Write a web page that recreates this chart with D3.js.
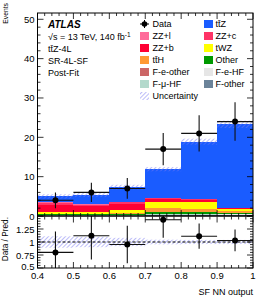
<!DOCTYPE html>
<html><head><meta charset="utf-8">
<script src="https://cdn.jsdelivr.net/npm/d3@7"></script>
<style>
body{margin:0;background:#fff;}
text{font-family:"Liberation Sans",Arial,Helvetica,sans-serif;}
</style></head>
<body><svg id="c" width="266" height="300"></svg>
<script>
const binEdges = [0.4,0.5,0.6,0.7,0.8,0.9,1.0];
const dataVals = [4,6,7,17,21,24];
const procNames = ["F-other","F-\u03bc-HF","F-e-HF","F-e-other","Other","tt\u0304H","tWZ","ZZ+b","ZZ+c","ZZ+l","tt\u0304Z"];
const procColors = ["#6b8399","#b3d9cc","#e6e6e6","#cc6666","#009900","#ff9933","#ffff00","#ff0033","#ff3366","#ff6b9a","#1a5cff"];
const fOther   = [0.10,0.10,0.10,0.15,0.15,0.15];
const fMuHF    = [0.15,0.10,0.15,0.25,0.25,0.20];
const fEHF     = [0.05,0.05,0.05,0.10,0.10,0.10];
const fEOther  = [0.05,0.05,0.05,0.10,0.10,0.10];
const other    = [0.10,0.10,0.10,0.30,0.30,0.25];
const ttH      = [0.15,0.10,0.25,1.10,0.90,0.55];
const tWZ      = [0.30,0.60,0.70,1.60,1.80,0.55];
const zzb      = [1.90,1.40,1.60,0.70,0.45,0.05];
const zzc      = [0.60,0.40,0.45,0.30,0.20,0.03];
const zzl      = [0.20,0.15,0.15,0.10,0.05,0.02];
const ttZ      = [1.40,2.30,3.75,7.20,14.60,21.30];
const relUnc   = [0.11,0.10,0.08,0.045,0.04,0.04];
const xTicks = [0.4,0.5,0.6,0.7,0.8,0.9,1];
const yTicks = [0,10,20,30,40,50];
const rTicks = [0.5,0.75,1,1.25];
const legendLeft = [["Data","data"],["ZZ+l",9],["ZZ+b",7],["tt\u0304H",5],["F-e-other",3],["F-\u03bc-HF",1],["Uncertainty","unc"]];
const legendRight = [["tt\u0304Z",10],["ZZ+c",8],["tWZ",6],["Other",4],["F-e-HF",2],["F-other",0]];
const infoLines = ["tt\u0304Z-4L","SR-4L-SF","Post-Fit"];

const series = [fOther,fMuHF,fEHF,fEOther,other,ttH,tWZ,zzb,zzc,zzl,ttZ];
const bins = dataVals.map((d,i)=>{const o={i:i,lo:binEdges[i],hi:binEdges[i+1]}; series.forEach((s,k)=>o["p"+k]=s[i]); return o;});
const totals = bins.map((b,i)=>d3.sum(series,s=>s[i]));

const svg = d3.select("#c");
const L=37.5,R=253,T=13,MB=216,RB=268;
const x = d3.scaleLinear().domain([0.4,1]).range([L,R]);
const y = d3.scaleLinear().domain([0,51.6]).range([MB,T]);
const yr = d3.scaleLinear().domain([0.5,1.5]).range([RB,MB]);

const defs = svg.append("defs");
const pat = defs.append("pattern").attr("id","hatch").attr("patternUnits","userSpaceOnUse")
  .attr("width",3).attr("height",3).attr("patternTransform","rotate(45)");
pat.append("line").attr("x1",0).attr("y1",0).attr("x2",0).attr("y2",3).attr("stroke","#7a7af2").attr("stroke-width",1);
defs.append("clipPath").attr("id","clipM").append("rect").attr("x",L).attr("y",T).attr("width",R-L).attr("height",MB-T);
defs.append("clipPath").attr("id","clipR").append("rect").attr("x",L).attr("y",MB).attr("width",R-L).attr("height",RB-MB);

// stacks
const stack = d3.stack().keys(series.map((s,k)=>"p"+k))(bins);
const gM = svg.append("g").attr("clip-path","url(#clipM)");
stack.forEach((layer,k)=>{
  gM.selectAll(null).data(layer).enter().append("rect")
    .attr("x",d=>x(d.data.lo)).attr("width",d=>x(d.data.hi)-x(d.data.lo))
    .attr("y",d=>y(d[1])).attr("height",d=>Math.max(0,y(d[0])-y(d[1])))
    .attr("fill",procColors[k]).attr("shape-rendering","crispEdges");
});
gM.selectAll(null).data(bins).enter().append("rect")
  .attr("x",d=>x(d.lo)).attr("width",d=>x(d.hi)-x(d.lo))
  .attr("y",(d,i)=>y(totals[i]*(1+relUnc[i]))).attr("height",(d,i)=>y(totals[i]*(1-relUnc[i]))-y(totals[i]*(1+relUnc[i])))
  .attr("fill","url(#hatch)");

// data main
const dc="#111";
const gD = svg.append("g").attr("clip-path","url(#clipM)");
bins.forEach((b,i)=>{
  const cx=x((b.lo+b.hi)/2), v=dataVals[i], e=Math.sqrt(v);
  gD.append("line").attr("x1",x(b.lo)).attr("x2",x(b.hi)).attr("y1",y(v)).attr("y2",y(v)).attr("stroke",dc).attr("stroke-width",1.1);
  gD.append("line").attr("x1",cx).attr("x2",cx).attr("y1",y(v-e)).attr("y2",y(v+e)).attr("stroke",dc).attr("stroke-width",1.1);
  gD.append("circle").attr("cx",cx).attr("cy",y(v)).attr("r",3).attr("fill","#000");
});

// ratio
const gR = svg.append("g").attr("clip-path","url(#clipR)");
bins.forEach((b,i)=>{
  gR.append("rect").attr("x",x(b.lo)).attr("width",x(b.hi)-x(b.lo))
    .attr("y",yr(1+relUnc[i])).attr("height",yr(1-relUnc[i])-yr(1+relUnc[i])).attr("fill","url(#hatch)");
});
gR.append("line").attr("x1",L).attr("x2",R).attr("y1",yr(1)).attr("y2",yr(1)).attr("stroke","#000").attr("stroke-width",1).attr("stroke-dasharray","3,2");
bins.forEach((b,i)=>{
  const cx=x((b.lo+b.hi)/2), r=dataVals[i]/totals[i], e=Math.sqrt(dataVals[i])/totals[i];
  gR.append("line").attr("x1",x(b.lo)).attr("x2",x(b.hi)).attr("y1",yr(r)).attr("y2",yr(r)).attr("stroke",dc).attr("stroke-width",1.1);
  gR.append("line").attr("x1",cx).attr("x2",cx).attr("y1",yr(r-e)).attr("y2",yr(r+e)).attr("stroke",dc).attr("stroke-width",1.1);
  gR.append("circle").attr("cx",cx).attr("cy",yr(r)).attr("r",3).attr("fill","#000");
});

// frames
svg.append("rect").attr("x",L).attr("y",T).attr("width",R-L).attr("height",MB-T).attr("fill","none").attr("stroke","#000").attr("stroke-width",1);
svg.append("rect").attr("x",L).attr("y",MB).attr("width",R-L).attr("height",RB-MB).attr("fill","none").attr("stroke","#000").attr("stroke-width",1);

// ticks
const tk = svg.append("g").attr("stroke","#000").attr("stroke-width",0.8);
const xMinor = d3.range(0.4,1.0001,0.02);
function xt(yBase,dir){
  xMinor.forEach(v=>{const maj=xTicks.some(t=>Math.abs(t-v)<1e-6); const len=maj?6:3;
    tk.append("line").attr("x1",x(v)).attr("x2",x(v)).attr("y1",yBase).attr("y2",yBase+dir*len);});
}
xt(MB,-1);xt(T,1);xt(RB,-1);xt(MB+0.5,1);
d3.range(0,51.6,2).forEach(v=>{const maj=v%10===0; const len=maj?6:3;
  tk.append("line").attr("x1",L).attr("x2",L+len).attr("y1",y(v)).attr("y2",y(v));
  tk.append("line").attr("x1",R).attr("x2",R-len).attr("y1",y(v)).attr("y2",y(v));});
d3.range(0.5,1.5001,0.05).forEach(v=>{const maj=Math.abs(v*4-Math.round(v*4))<1e-6; const len=maj?6:3;
  tk.append("line").attr("x1",L).attr("x2",L+len).attr("y1",yr(v)).attr("y2",yr(v));
  tk.append("line").attr("x1",R).attr("x2",R-len).attr("y1",yr(v)).attr("y2",yr(v));});

// tick labels
const fs=9.5;
svg.selectAll(null).data(yTicks).enter().append("text").attr("x",L-3).attr("y",d=>y(d)+3.5)
  .attr("text-anchor","end").attr("font-size",fs).text(d=>d);
svg.selectAll(null).data(rTicks).enter().append("text").attr("x",L-3).attr("y",d=>yr(d)+(d===0.5?2.3:3.5))
  .attr("text-anchor","end").attr("font-size",fs).text(d=>d);
svg.selectAll(null).data(xTicks).enter().append("text").attr("x",d=>x(d)).attr("y",RB+10.5)
  .attr("text-anchor","middle").attr("font-size",fs).text(d=>d);

// axis titles
svg.append("text").attr("transform","translate(8,3) rotate(-90)").attr("text-anchor","end").attr("font-size",6.8).text("Events");
svg.append("text").attr("transform","translate(8,217) rotate(-90)").attr("text-anchor","end").attr("font-size",8.3).text("Data / Pred.");
svg.append("text").attr("x",R).attr("y",295).attr("text-anchor","end").attr("font-size",9).text("SF NN output");

// info text
svg.append("text").attr("x",48).attr("y",28).attr("font-size",10).attr("font-weight","bold").attr("font-style","italic").text("ATLAS");
const t2 = svg.append("text").attr("x",48).attr("y",40).attr("font-size",9);
t2.append("tspan").text("\u221as = 13 TeV, 140 fb");
t2.append("tspan").attr("dy",-3.5).attr("font-size",6.5).text("-1");
infoLines.forEach((s,i)=>svg.append("text").attr("x",48).attr("y",52+12*i).attr("font-size",9).text(s));

// legend
const lg = svg.append("g");
function entry(xm,xt,yc,label,kind){
  if(kind==="data"){
    lg.append("line").attr("x1",xm).attr("x2",xm+9).attr("y1",yc).attr("y2",yc).attr("stroke","#000").attr("stroke-width",1);
    lg.append("line").attr("x1",xm+4.5).attr("x2",xm+4.5).attr("y1",yc-4).attr("y2",yc+4).attr("stroke","#000").attr("stroke-width",1);
    lg.append("circle").attr("cx",xm+4.5).attr("cy",yc).attr("r",2.8).attr("fill","#000");
  } else if(kind==="unc"){
    lg.append("rect").attr("x",xm).attr("y",yc-4).attr("width",9).attr("height",8).attr("fill","url(#hatch)");
  } else {
    lg.append("rect").attr("x",xm).attr("y",yc-4).attr("width",9).attr("height",8).attr("fill",procColors[kind]);
  }
  lg.append("text").attr("x",xt).attr("y",yc+3.3).attr("font-size",9).text(label);
}
legendLeft.forEach((e,i)=>entry(140,152.5,24+12*i,e[0],e[1]));
legendRight.forEach((e,i)=>entry(204,215.5,24+12*i,e[0],e[1]));
</script></body></html>
